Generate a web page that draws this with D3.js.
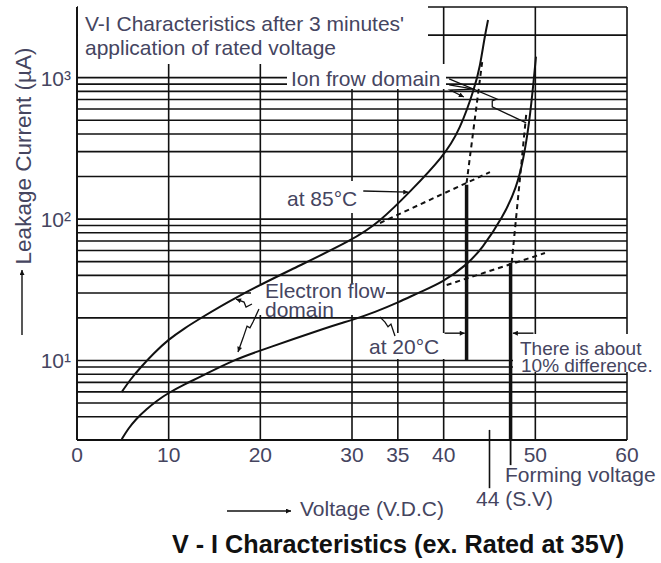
<!DOCTYPE html>
<html><head><meta charset="utf-8">
<script src="https://cdn.jsdelivr.net/npm/d3@7"></script>
<style>
body{margin:0;background:#fff}
svg{display:block}
text{font-family:"Liberation Sans",Arial,Helvetica,sans-serif}
</style>
</head><body>
<svg id="c" width="661" height="563"></svg>
<script>
// ---------- data ----------
const xTicks = [0, 10, 20, 30, 35, 40, 50, 60];
const yTickValues = [10, 100, 1000];
const yTickLabels = ["10¹", "10²", "10³"];
const hGrid = [4,5,6,7,8,9,10,20,30,40,50,60,70,80,90,100,200,300,400,500,600,700,800,900,1000,2000];

// V-I curve at 85°C (voltage V, current µA)
const c85V = [4.88, 5.78, 6.87, 8.40, 9.96, 11.78, 13.42, 17.05, 23.24, 30.08, 33.05, 36.33, 39.96, 41.78, 43.42, 43.96, 44.45, 44.84];
const c85I = [5.99, 7.28, 8.85, 11.3, 14.05, 17.0, 19.8, 27.5, 43.6, 71.1, 95.9, 156, 276, 427, 864, 1196, 1909, 2559];
// V-I curve at 20°C
const c20V = [4.88, 5.56, 6.44, 7.60, 8.73, 9.96, 11.78, 13.42, 17.05, 20.69, 27.60, 30.0, 32.51, 35.02, 37.42, 39.93, 42.51, 44.15, 46.51, 47.97, 48.69, 49.34, 49.85, 50.07];
const c20I = [2.77, 3.28, 3.86, 4.54, 5.21, 5.89, 6.82, 7.64, 10.1, 12.2, 17.4, 19.3, 22.0, 25.7, 30.5, 35.9, 47.4, 61.4, 104, 169, 262, 476, 990, 1408];

// dashed asymptotes (electron-flow and ion-flow domains)
const d85eV = [33.05, 45.05], d85eI = [93.8, 215];
const d85iV = [42.5, 44.2],  d85iI = [180, 1290];
const d20eV = [40.33, 51.05], d20eI = [34.2, 57.5];
const d20iV = [47.42, 49.0], d20iI = [49, 545];

// forming-voltage markers
const form85 = {v: 42.5, i0: 10, i1: 175};
const form20 = {v: 47.3, i0: 2.74, i1: 49, ext: 1.82};
const svLine = {v: 45.0, i0: 3.23, i1: 1.25};
const diffArrowI = 15.6;
const diffLeftV = [40.1, 42.3];
const diffRightV = [49.8, 47.55];

// leader zig-zags
const ionLeadA_V = [40.6, 45.8, 45.3, 45.3, 49.0], ionLeadA_I = [980, 707, 684, 621, 479];
const ionLeadB_V = [40.6, 43.3, 40.7, 42.2], ionLeadB_I = [888, 831, 817, 730];
const elLeadA_V = [19.09, 18.44, 18.22, 17.35], elLeadA_I = [25.1, 23.9, 25.9, 27.2];
const elLeadB_V = [19.85, 19.2, 18.87, 18.55, 18.11, 17.56], elLeadB_I = [23.1, 18.7, 17.0, 17.5, 14.4, 11.5];
const t20Lead_V = [34.69, 34.25, 33.93, 33.6, 33.05], t20Lead_I = [14.9, 18.1, 17.3, 18.7, 20.3];
const t85Lead_V = [31.23, 36.14], t85Lead_I = [158, 155];

// ---------- drawing ----------
const svg = d3.select("#c");
const x = d3.scaleLinear().domain([0, 60]).range([77, 627]);
const y = d3.scaleLog().domain([2.74, 3160]).range([440, 7]);
const ink = "#111";
const txt = "#45455f";

const defs = svg.append("defs");
function marker(id, len, wid) {
  defs.append("marker").attr("id", id).attr("viewBox", "0 0 10 10")
    .attr("refX", 10).attr("refY", 5).attr("markerUnits", "userSpaceOnUse")
    .attr("markerWidth", len).attr("markerHeight", wid).attr("orient", "auto")
    .append("path").attr("d", "M0,0 L10,5 L0,10 z").attr("fill", ink);
}
marker("ahs", 6, 5);

const zip = (a, b) => a.map((v, k) => [v, b[k]]);
const lineGen = d3.line().x(d => x(d[0])).y(d => y(d[1]));
const smooth = d3.line().x(d => x(d[0])).y(d => y(d[1])).curve(d3.curveBasis);

// grid
const g = svg.append("g").attr("stroke", ink).attr("stroke-width", 1.6);
xTicks.forEach(v => g.append("line").attr("x1", x(v)).attr("x2", x(v))
  .attr("y1", y(y.domain()[1])).attr("y2", y(y.domain()[0])));
hGrid.concat([y.domain()[1]]).forEach(v => g.append("line")
  .attr("x1", x(0)).attr("x2", x(60)).attr("y1", y(v)).attr("y2", y(v)));

// white label boxes hiding the grid
const masks = [
  [78, 4, 428, 64],    // title
  [287, 64, 446, 89],  // ion frow domain
  [283, 181, 360, 213],// at 85
  [251, 284, 386, 315],// electron flow domain
  [366, 333, 446, 359],// at 20
  [513, 334, 661, 372] // there is about
];
masks.forEach(m => svg.append("rect").attr("x", m[0]).attr("y", m[1])
  .attr("width", m[2] - m[0]).attr("height", m[3] - m[1]).attr("fill", "#fff"));

// axes
svg.append("line").attr("x1", x(0)).attr("x2", x(0)).attr("y1", y(y.domain()[1])).attr("y2", y(y.domain()[0]))
  .attr("stroke", ink).attr("stroke-width", 1.8);
svg.append("line").attr("x1", x(0)).attr("x2", x(60)).attr("y1", y(y.domain()[0])).attr("y2", y(y.domain()[0]))
  .attr("stroke", ink).attr("stroke-width", 1.8);

// curves
[[c85V, c85I], [c20V, c20I]].forEach(([vv, ii]) => svg.append("path")
  .attr("d", smooth(zip(vv, ii))).attr("fill", "none").attr("stroke", ink).attr("stroke-width", 2));

// dashed
[[d85eV, d85eI], [d85iV, d85iI], [d20eV, d20eI], [d20iV, d20iI]].forEach(([vv, ii]) => svg.append("path")
  .attr("d", lineGen(zip(vv, ii))).attr("fill", "none").attr("stroke", ink)
  .attr("stroke-width", 2).attr("stroke-dasharray", "5,4"));

// forming voltage thick lines
svg.append("line").attr("x1", x(form85.v)).attr("x2", x(form85.v)).attr("y1", y(form85.i1)).attr("y2", y(form85.i0))
  .attr("stroke", ink).attr("stroke-width", 3.5);
svg.append("line").attr("x1", x(form20.v)).attr("x2", x(form20.v)).attr("y1", y(form20.i1)).attr("y2", y(form20.i0))
  .attr("stroke", ink).attr("stroke-width", 3.5);
svg.append("line").attr("x1", x(form20.v)).attr("x2", x(form20.v)).attr("y1", y(form20.i0)).attr("y2", y(form20.ext))
  .attr("stroke", ink).attr("stroke-width", 1.8);
svg.append("line").attr("x1", x(svLine.v)).attr("x2", x(svLine.v)).attr("y1", y(svLine.i0)).attr("y2", y(svLine.i1))
  .attr("stroke", ink).attr("stroke-width", 1.6);

// 10% difference arrows
[diffLeftV, diffRightV].forEach(vv => svg.append("line")
  .attr("x1", x(vv[0])).attr("x2", x(vv[1])).attr("y1", y(diffArrowI)).attr("y2", y(diffArrowI))
  .attr("stroke", ink).attr("stroke-width", 1.4).attr("marker-end", "url(#ahs)"));

// leaders
[[ionLeadA_V, ionLeadA_I, false], [ionLeadB_V, ionLeadB_I, true], [elLeadA_V, elLeadA_I, true],
 [elLeadB_V, elLeadB_I, true], [t20Lead_V, t20Lead_I, false], [t85Lead_V, t85Lead_I, true]]
 .forEach(([vv, ii, arr]) => {
  const p = svg.append("path").attr("d", lineGen(zip(vv, ii))).attr("fill", "none")
    .attr("stroke", ink).attr("stroke-width", 1.3);
  if (arr) p.attr("marker-end", "url(#ahs)");
 });

// tick labels
const fs = 21;
xTicks.forEach(v => svg.append("text").attr("x", x(v)).attr("y", 462).attr("text-anchor", "middle")
  .attr("font-size", fs).attr("fill", txt).text(v));
yTickValues.forEach((v, k) => svg.append("text").attr("x", 71).attr("y", y(v) + 8).attr("text-anchor", "end")
  .attr("font-size", fs).attr("fill", txt).text(yTickLabels[k]));

// annotations
function label(xp, yp, s, opts = {}) {
  return svg.append("text").attr("x", xp).attr("y", yp).attr("font-size", opts.size || fs)
    .attr("fill", opts.fill || txt).attr("text-anchor", opts.anchor || "start")
    .attr("font-weight", opts.weight || "normal").text(s);
}
label(85, 31, "V-I Characteristics after 3 minutes'");
label(85, 55, "application of rated voltage");
label(291, 86, "Ion frow domain");
label(287, 206, "at 85°C");
label(265, 298, "Electron flow");
label(265, 317, "domain");
label(369, 354, "at 20°C");
label(520, 355, "There is about", {size: 19});
label(521, 372, "10% difference.", {size: 19});
label(505, 482, "Forming voltage");
label(476, 506, "44 (S.V)");
label(300, 516, "Voltage (V.D.C)");
label(398, 553, "V - I Characteristics (ex. Rated at 35V)", {size: 25.2, weight: "bold", anchor: "middle", fill: "#111"});

// axis title arrows
svg.append("line").attr("x1", 227).attr("x2", 291).attr("y1", 511).attr("y2", 511)
  .attr("stroke", ink).attr("stroke-width", 1.4).attr("marker-end", "url(#ahs)");
svg.append("line").attr("x1", 22).attr("x2", 22).attr("y1", 335).attr("y2", 270)
  .attr("stroke", ink).attr("stroke-width", 1.4).attr("marker-end", "url(#ahs)");
svg.append("text").attr("transform", "translate(31,156) rotate(-90)").attr("text-anchor", "middle")
  .attr("font-size", 22.5).attr("fill", txt).text("Leakage Current (µA)");
</script>
</body></html>
